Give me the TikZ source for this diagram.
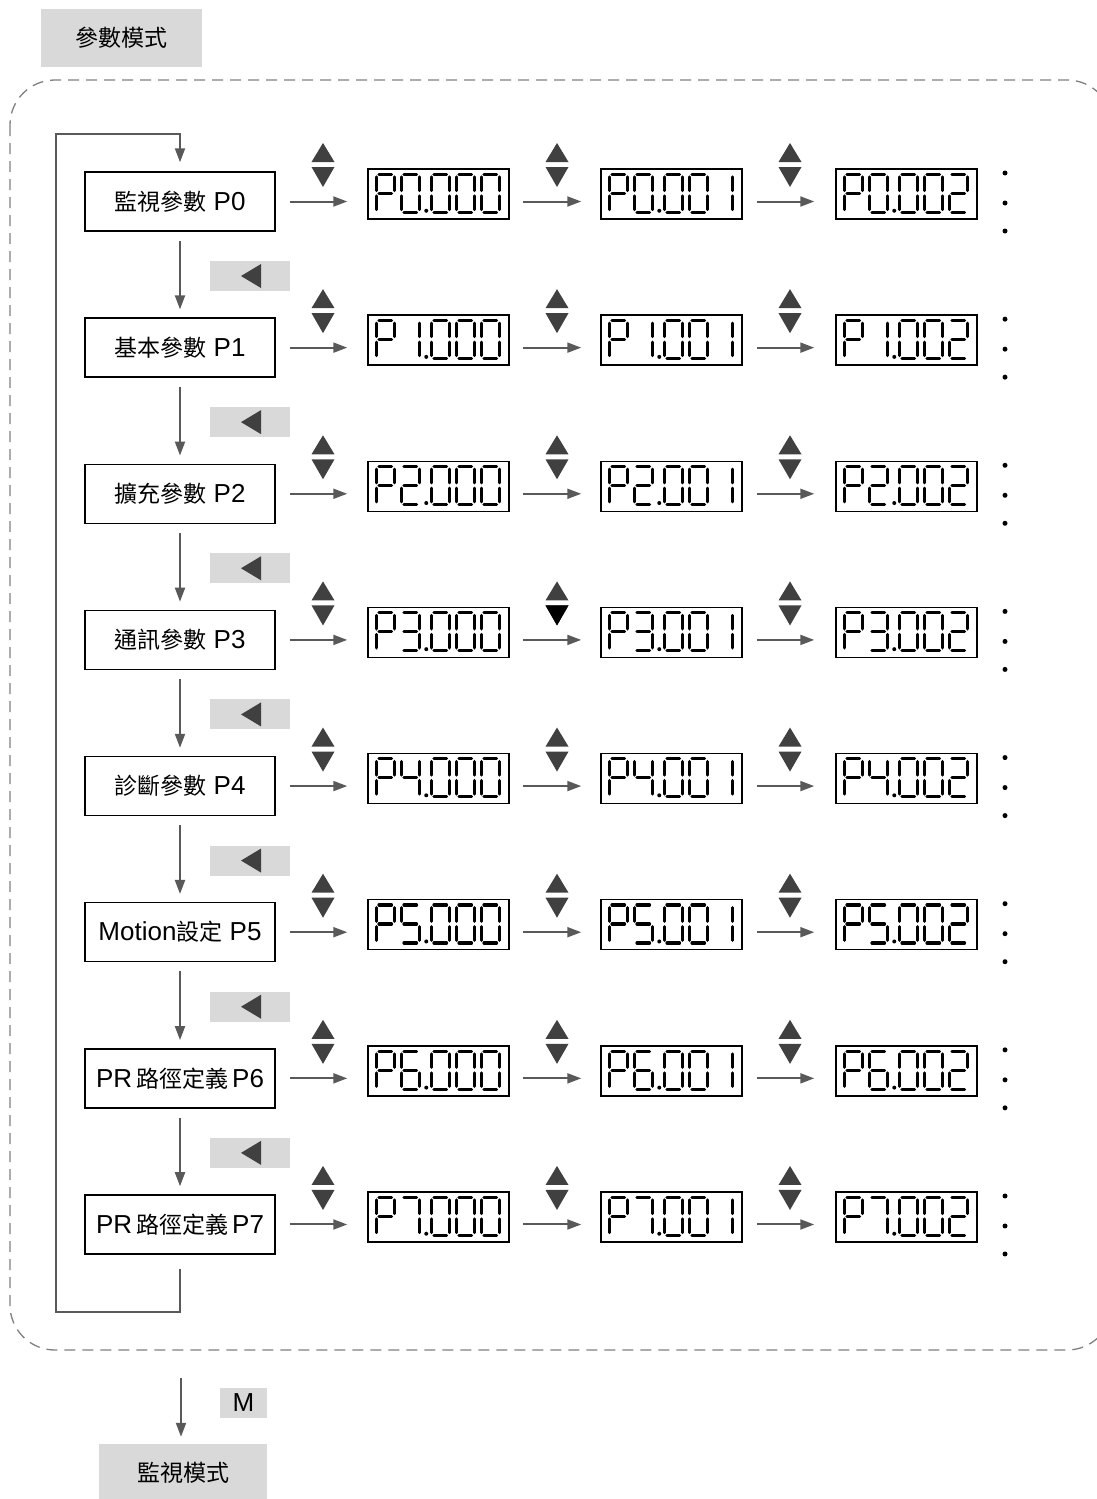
\documentclass[tikz,border=0pt]{standalone}
\usepackage{fontspec}
\setmainfont{Liberation Sans}
\newfontfamily\cjk{Noto Sans CJK TC}
\usetikzlibrary{arrows.meta,calc}
\definecolor{boxgray}{HTML}{D9D9D9}
\definecolor{arrgray}{HTML}{595959}
\definecolor{trigray}{HTML}{404040}
\definecolor{dashgray}{HTML}{808080}
\newcommand\lat{\fontsize{26}{30}\selectfont}
\newcommand\cj[1]{{\cjk\fontsize{23}{28}\selectfont #1}}
% seven-segment pieces (cell 18 x 38)
\newcommand\segA{\draw[seg] (2.7,0)--(15.3,0);}
\newcommand\segB{\draw[seg] (18,2.7)--(18,16.3);}
\newcommand\segC{\draw[seg] (18,21.7)--(18,35.3);}
\newcommand\segD{\draw[seg] (2.7,38)--(15.3,38);}
\newcommand\segE{\draw[seg] (0,21.7)--(0,35.3);}
\newcommand\segF{\draw[seg] (0,2.7)--(0,16.3);}
\newcommand\segG{\draw[seg] (2.7,19)--(15.3,19);}
\newcommand\digP{\segA\segB\segF\segE\segG}
\newcommand\digZ{\segA\segB\segC\segD\segE\segF}
\newcommand\digOne{\segB\segC}
\newcommand\digTwo{\segA\segB\segG\segE\segD}
\newcommand\digThree{\segA\segB\segG\segC\segD}
\newcommand\digFour{\segF\segG\segB\segC}
\newcommand\digFive{\segA\segF\segG\segC\segD}
\newcommand\digSix{\segA\segF\segG\segE\segC\segD}
\newcommand\digSeven{\segA\segB\segC}
\newcommand\dcell[2]{\begin{scope}[shift={(#1,6)}]#2\end{scope}}
\newcommand\showdisp[4]{%
  \node[disp] (#1) at (#2) {};
  \begin{scope}[shift={(#1.north west)}]
    \dcell{9}{\digP}
    \dcell{34}{#3}
    \fill (59,42.5) circle (2pt);
    \dcell{64}{\digZ}
    \dcell{89}{\digZ}
    \dcell{114}{#4}
  \end{scope}}
\tikzset{
  parbox/.style={draw=black, line width=1.5pt, minimum width=190pt, minimum height=59pt, inner sep=0pt, font=\lat},
  graybox/.style={fill=boxgray, draw=none, inner sep=0pt},
  disp/.style={draw=black, line width=1.5pt, minimum width=141pt, minimum height=50pt, inner sep=0pt},
  arr/.style={draw=arrgray, line width=2pt, -{Triangle[length=14pt,width=10pt]}},
  seg/.style={line width=3.1pt, line cap=round, draw=black},
  dashframe/.style={draw=dashgray, line width=1.3pt, dash pattern=on 11pt off 7pt, rounded corners=45pt},
}
\begin{document}
\begin{tikzpicture}[x=1pt,y=-1pt]
\useasboundingbox (0,0) rectangle (1097,1499);
% frame
\draw[dashframe] (10,80) rectangle (1112,1350);
% title
\node[graybox, minimum width=161pt, minimum height=58pt] (title) at (121.5,38) {\cj{參數模式}};
% rows
\foreach \i/\lab/\dg in {0/{\cj{監視參數} P0}/\digZ, 1/{\cj{基本參數} P1}/\digOne, 2/{\cj{擴充參數} P2}/\digTwo, 3/{\cj{通訊參數} P3}/\digThree, 4/{\cj{診斷參數} P4}/\digFour, 5/{Motion\cj{設定} P5}/\digFive, 6/{PR\hspace{4pt}\cj{路徑定義}\hspace{4pt}P6}/\digSix, 7/{PR\hspace{4pt}\cj{路徑定義}\hspace{4pt}P7}/\digSeven}{
  \pgfmathsetmacro\yy{201.5+146.14*\i}
  \pgfmathsetmacro\yd{\yy-7.5}
  \node[parbox] (b\i) at (180,\yy) {\lab};
  \showdisp{d\i-1}{438.5,\yd}{\dg}{\digZ}
  \showdisp{d\i-2}{671.5,\yd}{\dg}{\digOne}
  \showdisp{d\i-3}{906.5,\yd}{\dg}{\digTwo}
  \draw[arr] ($(b\i.east)+(14,0)$) -- ($(b\i.east -| d\i-1.west)+(-20,0)$);
  \draw[arr] ($(d\i-1.east |- b\i.east)+(13,0)$) -- ($(b\i.east -| d\i-2.west)+(-19,0)$);
  \draw[arr] ($(d\i-2.east |- b\i.east)+(14,0)$) -- ($(b\i.east -| d\i-3.west)+(-21,0)$);
  \foreach \tx in {323,557,790}{
    \fill[trigray] (\tx,\yy-58.5) -- (\tx+11.5,\yy-39.5) -- (\tx-11.5,\yy-39.5) -- cycle;
    \fill[trigray] (\tx-11.5,\yy-34.5) -- (\tx+11.5,\yy-34.5) -- (\tx,\yy-14.5) -- cycle;
  }
  \foreach \dy in {-28.5,1.5,29.5}{
    \fill (1005,\yy+\dy) circle (2.5pt);
  }
}
% black down key in row P3
\fill[black] (545.5,639.9-34.5) -- (568.5,639.9-34.5) -- (557,639.9-14.5) -- cycle;
% back keys and downward arrows
\foreach \i [evaluate=\i as \j using int(\i+1)] in {0,...,6}{
  \pgfmathsetmacro\yy{201.5+146.14*\i}
  \node[graybox, minimum width=80pt, minimum height=30pt] (g\i) at (250,\yy+74.5) {};
  \fill[trigray] ($(g\i.center)+(-9,0)$) -- ($(g\i.center)+(11,-12)$) -- ($(g\i.center)+(11,12)$) -- cycle;
  \draw[arr] ($(b\i.south)+(0,9)$) -- ($(b\j.north)+(0,-8)$);
}
% loop back
\coordinate (lp1) at (56,1312);
\draw[arr] ($(b7.south)+(0,14)$) |- (lp1) |- ($(b0.north)+(0,-37)$) -- ($(b0.north)+(0,-9)$);
% exit
\node[graybox, minimum width=47pt, minimum height=30pt, font=\lat] (mkey) at (243.5,1403) {M};
\node[graybox, minimum width=168pt, minimum height=58pt] (mon) at (183,1473) {\cj{監視模式}};
\coordinate (exitp) at (181,1378);
\draw[arr] (exitp) -- ($(mon.north)+(-2,-7)$);
\end{tikzpicture}
\end{document}
